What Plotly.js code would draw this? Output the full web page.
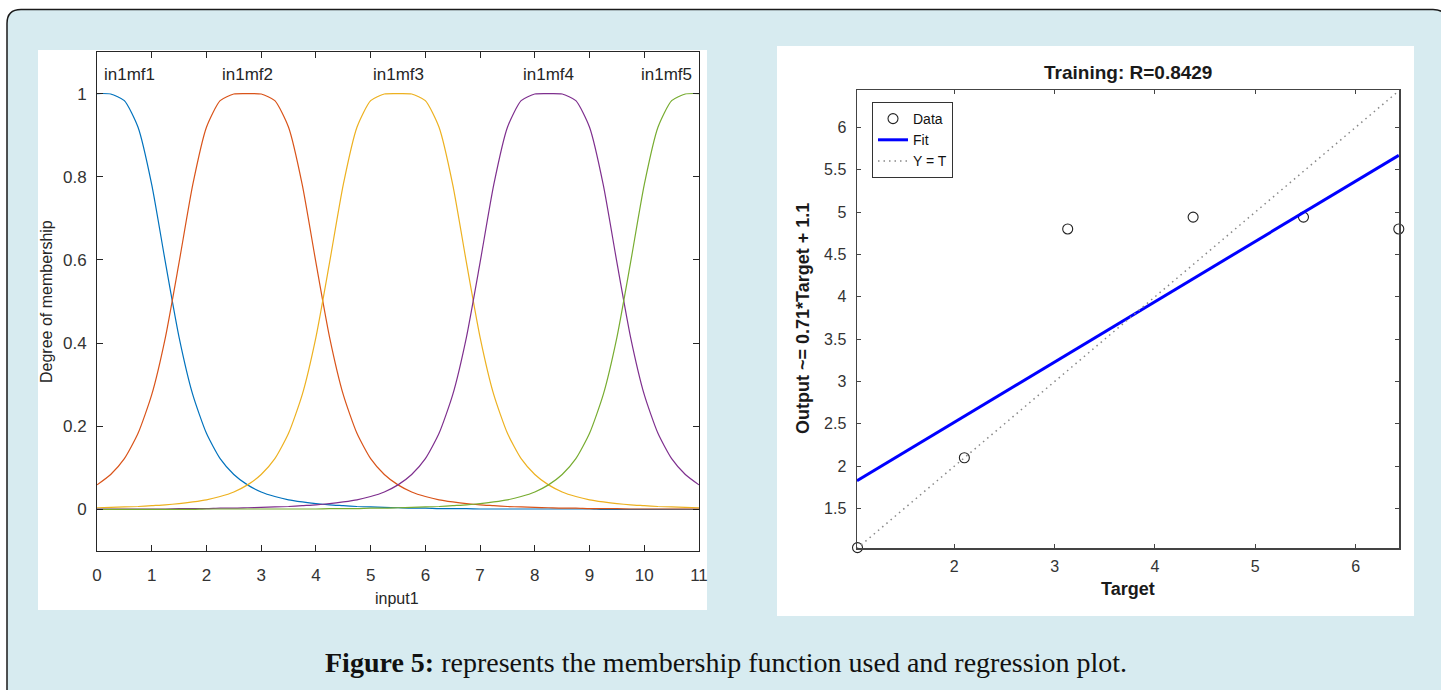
<!DOCTYPE html>
<html>
<head>
<meta charset="utf-8">
<script src="https://cdn.plot.ly/plotly-3.0.1.min.js"></script>
<style>
html,body{margin:0;padding:0;background:#fff;}
#chart{width:1441px;height:690px;}
</style>
</head>
<body>
<div id="chart"></div>
<script>
// ---- Membership functions (left panel) ----
const inputX = [0,0.25,0.5,0.75,1,1.25,1.5,1.75,2,2.25,2.5,2.75,3,3.25,3.5,3.75,4,4.25,4.5,4.75,5,5.25,5.5,5.75,6,6.25,6.5,6.75,7,7.25,7.5,7.75,8,8.25,8.5,8.75,9,9.25,9.5,9.75,10,10.25,10.5,10.75,11];
const mf1 = [1,.999,.983,.919,.781,.594,.414,.276,.183,.122,.084,.059,.042,.031,.023,.018,.014,.011,.009,.007,.006,.005,.004,.003,.003,.002,.002,.002,.001,.001,.001,.001,.001,.001,.001,.001,.001,0,0,0,0,0,0,0,0];
const mf2 = [.059,.084,.122,.183,.276,.414,.594,.781,.919,.983,.999,1,.999,.983,.919,.781,.594,.414,.276,.183,.122,.084,.059,.042,.031,.023,.018,.014,.011,.009,.007,.006,.005,.004,.003,.003,.002,.002,.002,.001,.001,.001,.001,.001,.001];
const mf3 = [.004,.005,.006,.007,.009,.011,.014,.018,.023,.031,.042,.059,.084,.122,.183,.276,.414,.594,.781,.919,.983,.999,1,.999,.983,.919,.781,.594,.414,.276,.183,.122,.084,.059,.042,.031,.023,.018,.014,.011,.009,.007,.006,.005,.004];
const mf4 = [.001,.001,.001,.001,.001,.001,.002,.002,.002,.003,.003,.004,.005,.006,.007,.009,.011,.014,.018,.023,.031,.042,.059,.084,.122,.183,.276,.414,.594,.781,.919,.983,.999,1,.999,.983,.919,.781,.594,.414,.276,.183,.122,.084,.059];
const mf5 = [0,0,0,0,0,0,0,0,.001,.001,.001,.001,.001,.001,.001,.001,.001,.002,.002,.002,.003,.003,.004,.005,.006,.007,.009,.011,.014,.018,.023,.031,.042,.059,.084,.122,.183,.276,.414,.594,.781,.919,.983,.999,1];
const mfNames = ['in1mf1','in1mf2','in1mf3','in1mf4','in1mf5'];
const mfPeaks = [0, 2.75, 5.5, 8.25, 11];
const mfColors = ['#0072BD','#D95319','#EDB120','#7E2F8E','#77AC30'];
const leftXTicks = [0,1,2,3,4,5,6,7,8,9,10,11];
const leftYTicks = [0,0.2,0.4,0.6,0.8,1];
const leftYTickText = ['0','0.2','0.4','0.6','0.8','1'];

// ---- Regression (right panel) ----
const targets = [1.035, 2.10, 3.13, 4.38, 5.48, 6.43];
const outputs = [1.04, 2.10, 4.80, 4.94, 4.94, 4.80];
const fitX = [1.03, 6.43];
const fitY = [1.83, 5.67];
const ytX = [1.03, 6.43];
const ytY = [1.03, 6.43];
const rightXTicks = [2,3,4,5,6];
const rightYTicks = [1.5,2,2.5,3,3.5,4,4.5,5,5.5,6];
const rightYTickText = ['1.5','2','2.5','3','3.5','4','4.5','5','5.5','6'];

const W = 1441, H = 690;
const px = v => v / W;
const py = v => 1 - v / H;

const mfs = [mf1, mf2, mf3, mf4, mf5];
const traces = mfs.map((m, i) => ({
  x: inputX, y: m, type: 'scatter', mode: 'lines',
  line: {color: mfColors[i], width: 1.2, shape: 'spline', smoothing: 0.6},
  xaxis: 'x', yaxis: 'y', showlegend: false, hoverinfo: 'skip'
}));

traces.push({
  x: targets, y: outputs, type: 'scatter', mode: 'markers', name: 'Data',
  marker: {symbol: 'circle-open', size: 10, color: '#222', line: {width: 1.1, color: '#222'}},
  xaxis: 'x2', yaxis: 'y2', cliponaxis: false
});
traces.push({
  x: fitX, y: fitY, type: 'scatter', mode: 'lines', name: 'Fit',
  line: {color: '#0000FF', width: 3},
  xaxis: 'x2', yaxis: 'y2'
});
traces.push({
  x: ytX, y: ytY, type: 'scatter', mode: 'lines', name: 'Y = T',
  line: {color: '#888', width: 1.5, dash: '1.5px,4px'},
  xaxis: 'x2', yaxis: 'y2'
});

const sans = 'Liberation Sans, Arial, sans-serif';

const annotations = [];
mfNames.forEach((n, i) => {
  let xa = 'center', xv = mfPeaks[i];
  if (i === 0) { xa = 'left'; xv = 0.1; }
  if (i === 4) { xa = 'right'; xv = 10.9; }
  annotations.push({x: xv, y: 1.047, xref: 'x', yref: 'y', text: n, showarrow: false,
    xanchor: xa, yanchor: 'middle', font: {family: sans, size: 17, color: '#262626'}});
});
annotations.push({x: px(397), y: py(598), xref: 'paper', yref: 'paper', text: 'input1', showarrow: false,
  xanchor: 'center', yanchor: 'middle', font: {family: sans, size: 16, color: '#262626'}});
annotations.push({x: px(46), y: py(301), xref: 'paper', yref: 'paper', text: 'Degree of membership', showarrow: false,
  textangle: -90, xanchor: 'center', yanchor: 'middle', font: {family: sans, size: 16, color: '#262626'}});
annotations.push({x: px(1128), y: py(73), xref: 'paper', yref: 'paper', text: '<b>Training: R=0.8429</b>', showarrow: false,
  xanchor: 'center', yanchor: 'middle', font: {family: sans, size: 19, color: '#1a1a1a'}});
annotations.push({x: px(1128), y: py(589), xref: 'paper', yref: 'paper', text: '<b>Target</b>', showarrow: false,
  xanchor: 'center', yanchor: 'middle', font: {family: sans, size: 18, color: '#1a1a1a'}});
annotations.push({x: px(803), y: py(319), xref: 'paper', yref: 'paper', text: '<b>Output ~= 0.71*Target + 1.1</b>', showarrow: false,
  textangle: -90, xanchor: 'center', yanchor: 'middle', font: {family: sans, size: 18, color: '#1a1a1a'}});
annotations.push({x: px(726), y: py(662), xref: 'paper', yref: 'paper',
  text: '<b>Figure 5:</b> represents the membership function used and regression plot.', showarrow: false,
  xanchor: 'center', yanchor: 'middle', font: {family: 'Liberation Serif, Times New Roman, serif', size: 28, color: '#111'}});

const r = 14;
const fx0 = 7, fy0 = 9.5, fx1 = 1447, fy1 = 705;
const framePath = `M ${px(fx0)},${py(fy1)} L ${px(fx0)},${py(fy0 + r)} Q ${px(fx0)},${py(fy0)} ${px(fx0 + r)},${py(fy0)} ` +
  `L ${px(fx1 - r)},${py(fy0)} Q ${px(fx1)},${py(fy0)} ${px(fx1)},${py(fy0 + r)} L ${px(fx1)},${py(fy1)} Z`;

const shapes = [
  {type: 'path', xref: 'paper', yref: 'paper', path: framePath, fillcolor: '#d7ebf0',
   line: {color: '#1a1a1a', width: 1.5}, layer: 'below'},
  {type: 'rect', xref: 'paper', yref: 'paper', x0: px(38), x1: px(707), y0: py(610), y1: py(50),
   fillcolor: '#ffffff', line: {width: 0}, layer: 'below'},
  {type: 'rect', xref: 'paper', yref: 'paper', x0: px(777), x1: px(1414), y0: py(616), y1: py(46),
   fillcolor: '#ffffff', line: {width: 0}, layer: 'below'}
];

const layout = {
  width: W, height: H,
  margin: {l: 0, r: 0, t: 0, b: 0, pad: 0},
  paper_bgcolor: '#ffffff',
  plot_bgcolor: 'rgba(0,0,0,0)',
  showlegend: true,
  legend: {
    x: px(872), y: py(102), xanchor: 'left', yanchor: 'top',
    bgcolor: '#ffffff', bordercolor: '#333', borderwidth: 1,
    font: {family: sans, size: 14, color: '#111'},
    tracegroupgap: 0, itemwidth: 30
  },
  xaxis: {
    domain: [px(97), px(699)], anchor: 'y', range: [0, 11],
    tickvals: leftXTicks, ticks: 'inside', ticklen: 6, tickcolor: '#262626',
    showline: true, linecolor: '#262626', linewidth: 1, mirror: 'ticks',
    showgrid: false, zeroline: false, ticklabelstandoff: 9,
    tickfont: {family: sans, size: 17, color: '#333'}
  },
  yaxis: {
    domain: [py(551), py(52)], anchor: 'x', range: [-0.1, 1.1],
    tickvals: leftYTicks, ticktext: leftYTickText, ticks: 'inside', ticklen: 6, tickcolor: '#262626',
    showline: true, linecolor: '#262626', linewidth: 1, mirror: 'ticks',
    showgrid: false, zeroline: false, ticklabelstandoff: 6,
    tickfont: {family: sans, size: 17, color: '#333'}
  },
  xaxis2: {
    domain: [px(857), px(1399)], anchor: 'y2', range: [1.03, 6.432],
    tickvals: rightXTicks, ticks: 'inside', ticklen: 4, tickcolor: '#444',
    showline: true, linecolor: '#444', linewidth: 1.5, mirror: 'ticks',
    showgrid: false, zeroline: false, ticklabelstandoff: 3,
    tickfont: {family: sans, size: 16, color: '#333'}
  },
  yaxis2: {
    domain: [py(548), py(90)], anchor: 'x2', range: [1.035, 6.44],
    tickvals: rightYTicks, ticktext: rightYTickText, ticks: 'inside', ticklen: 4, tickcolor: '#444',
    showline: true, linecolor: '#444', linewidth: 1.5, mirror: 'ticks',
    showgrid: false, zeroline: false, ticklabelstandoff: 6,
    tickfont: {family: sans, size: 16, color: '#333'}
  },
  annotations: annotations,
  shapes: shapes
};

Plotly.newPlot('chart', traces, layout, {displayModeBar: false, staticPlot: true});
</script>
</body>
</html>
